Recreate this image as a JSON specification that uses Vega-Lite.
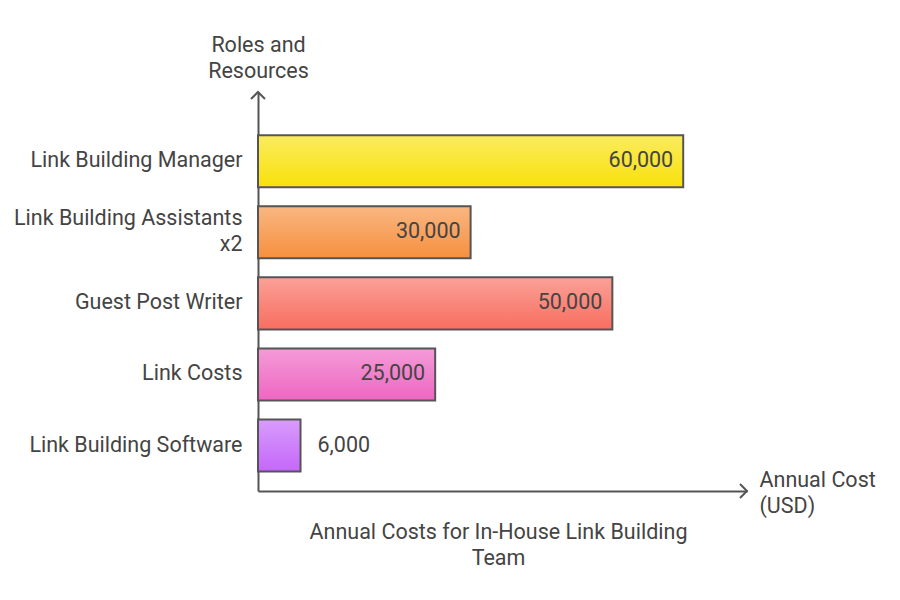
{
  "$schema": "https://vega.github.io/schema/vega-lite/v6.json",
  "width": 489,
  "height": 399,
  "padding": {"left": 13, "top": 34, "right": 5, "bottom": 5},
  "background": "white",
  "config": {
    "view": {"stroke": null},
    "font": "Roboto",
    "text": {"font": "Roboto"}
  },
  "title": {
    "text": ["Annual Costs for In-House Link Building", "Team"],
    "orient": "bottom",
    "anchor": "middle",
    "fontSize": 21.5,
    "fontWeight": "normal",
    "color": "#444444",
    "lineHeight": 26,
    "offset": 5,
    "dx": -4
  },
  "data": {
    "values": [
      {"role": "Link Building Manager", "cost": 60000, "label": "60,000"},
      {"role": "Link Building Assistants x2", "cost": 30000, "label": "30,000"},
      {"role": "Guest Post Writer", "cost": 50000, "label": "50,000"},
      {"role": "Link Costs", "cost": 25000, "label": "25,000"},
      {"role": "Link Building Software", "cost": 6000, "label": "6,000"}
    ]
  },
  "encoding": {
    "y": {
      "field": "role",
      "type": "nominal",
      "sort": null,
      "scale": {"paddingInner": 0.267, "paddingOuter": 0.44, "align": 0.69},
      "axis": {
        "title": ["Roles and", "Resources"],
        "titleAngle": 0,
        "titleX": 0,
        "titleY": -36,
        "titleAlign": "center",
        "titleBaseline": "bottom",
        "titleFontSize": 21.5,
        "titleFontWeight": "normal",
        "titleColor": "#444444",
        "titleLineHeight": 26,
        "labelFontSize": 21.5,
        "labelColor": "#444444",
        "labelPadding": 16,
        "labelLimit": 400,
        "labelLineHeight": 26,
        "labelOffset": {"condition": {"test": "datum.value == 'Link Building Assistants x2'", "value": -13}, "value": 0},
        "labelExpr": "datum.value == 'Link Building Assistants x2' ? ['Link Building Assistants', 'x2'] : datum.value",
        "ticks": false,
        "domainColor": "#555555",
        "domainWidth": 2
      }
    },
    "x": {
      "field": "cost",
      "type": "quantitative",
      "scale": {"domain": [0, 69000], "nice": false},
      "axis": {
        "title": ["Annual Cost", "(USD)"],
        "titleX": 501,
        "titleY": -11,
        "titleAlign": "left",
        "titleBaseline": "middle",
        "titleFontSize": 21.5,
        "titleFontWeight": "normal",
        "titleColor": "#444444",
        "titleLineHeight": 26,
        "labels": false,
        "ticks": false,
        "grid": false,
        "domainColor": "#555555",
        "domainWidth": 2
      }
    }
  },
  "layer": [
    {
      "mark": {"type": "bar"},
      "encoding": {
        "fill": {
          "field": "role",
          "type": "nominal",
          "legend": null,
          "scale": {
            "domain": ["Link Building Manager", "Link Building Assistants x2", "Guest Post Writer", "Link Costs", "Link Building Software"],
            "range": ["#f8e10a", "#f6903f", "#f86e60", "#ee66c2", "#c467fa"]
          }
        }
      }
    },
    {
      "mark": {
        "type": "bar",
        "stroke": "#555555",
        "strokeWidth": 2,
        "fill": {
          "gradient": "linear",
          "x1": 0, "y1": 0, "x2": 0, "y2": 1,
          "stops": [
            {"offset": 0, "color": "rgba(255,255,255,0.35)"},
            {"offset": 1, "color": "rgba(255,255,255,0)"}
          ]
        }
      }
    },
    {
      "transform": [{"filter": "datum.cost >= 10000"}],
      "mark": {"type": "text", "align": "right", "baseline": "middle", "dx": -10, "fontSize": 21.5, "color": "#444444"},
      "encoding": {"text": {"field": "label"}}
    },
    {
      "transform": [{"filter": "datum.cost < 10000"}],
      "mark": {"type": "text", "align": "left", "baseline": "middle", "dx": 17, "fontSize": 21.5, "color": "#444444"},
      "encoding": {"text": {"field": "label"}}
    },
    {
      "data": {"values": [{"cost": 0}]},
      "mark": {"type": "point", "shape": "M-1,1L0,0L1,1", "filled": false, "stroke": "#555555", "strokeWidth": 2, "size": 196, "opacity": 1},
      "encoding": {"y": {"value": 0}}
    },
    {
      "data": {"values": [{"cost": 69000}]},
      "mark": {"type": "point", "shape": "M-1,-1L0,0L-1,1", "filled": false, "stroke": "#555555", "strokeWidth": 2, "size": 196, "opacity": 1},
      "encoding": {"y": {"value": {"expr": "height"}}}
    }
  ]
}
